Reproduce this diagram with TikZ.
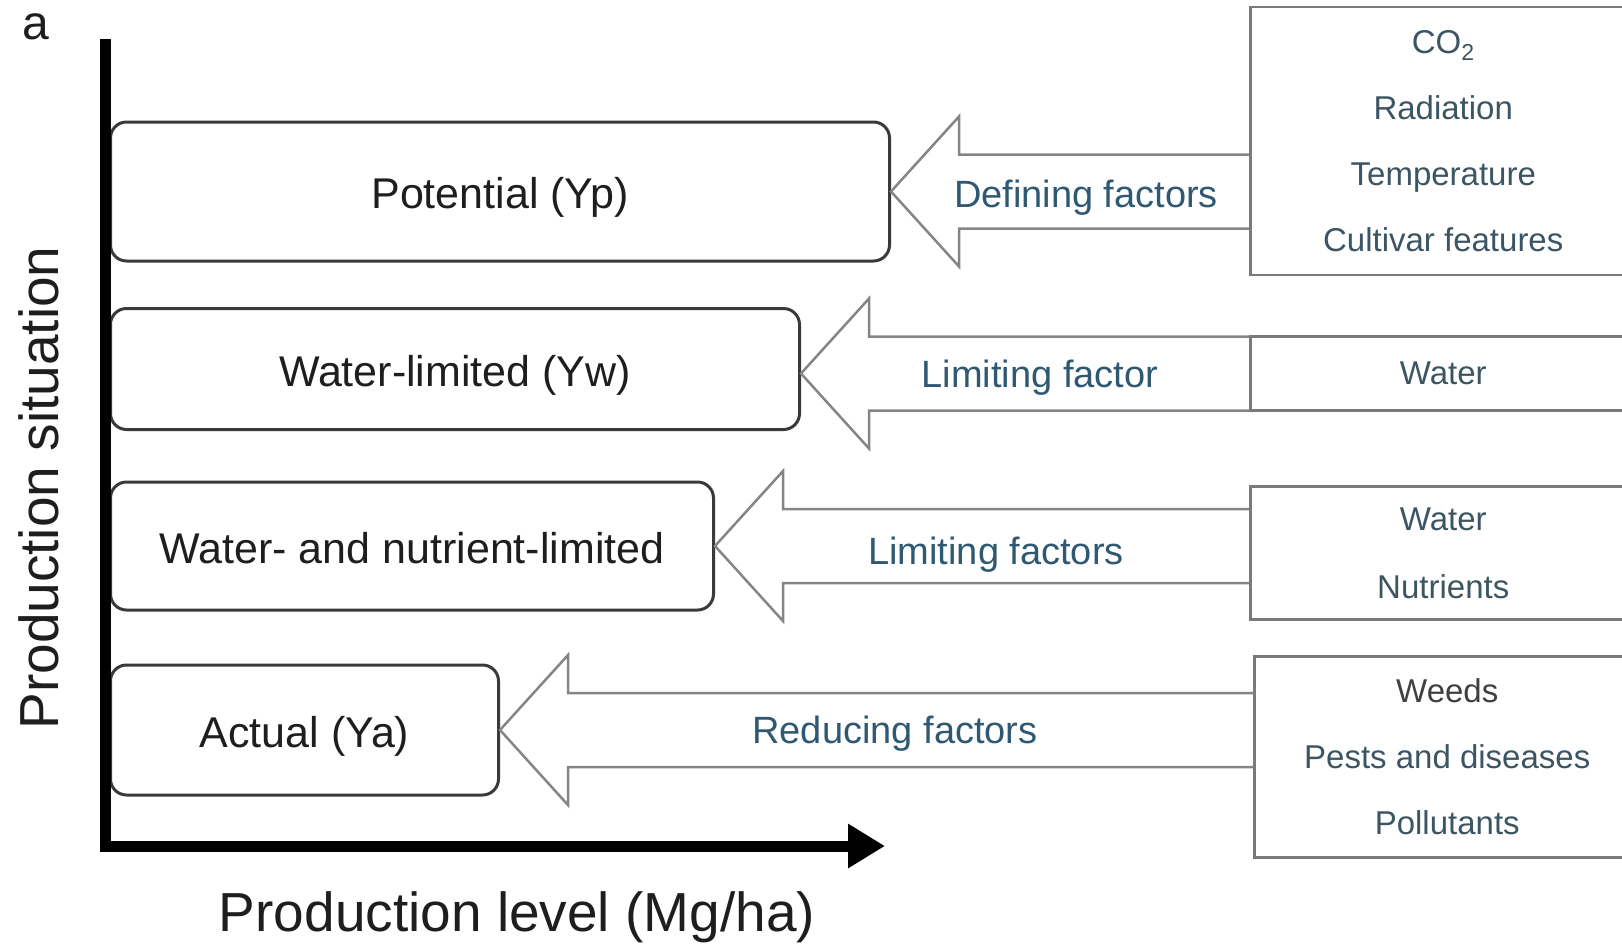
\documentclass[tikz,border=0pt]{standalone}
\usepackage{fontspec}
\setmainfont{Liberation Sans}
\usepackage{tikz}
\usetikzlibrary{positioning, arrows.meta, calc}
\usepackage{xcolor}

\definecolor{boxgray}{HTML}{3A3A3A}
\definecolor{framegray}{HTML}{7A7A7A}
\definecolor{arrowgray}{HTML}{858585}
\definecolor{labelblack}{HTML}{1E1E1E}
\definecolor{labelblue}{HTML}{2F5872}
\definecolor{factortext}{HTML}{3C5563}

\newcommand{\sitfont}{\fontsize{43}{52}\selectfont}
\newcommand{\arrfont}{\fontsize{38}{46}\selectfont}
\newcommand{\facfont}{\fontsize{33}{66}\selectfont}
\newcommand{\axfont}{\fontsize{55}{66}\selectfont}

\begin{document}
\begin{tikzpicture}[
        x=1pt, y=-1pt,
        situation/.style={draw=boxgray, line width=3pt, rounded corners=16pt,
          anchor=west, font=\sitfont, text=labelblack,
          text height=34pt, text depth=0pt},
        factorbox/.style={draw=framegray, line width=2.5pt, anchor=west,
          minimum width=386pt, align=center, font=\facfont, text=factortext},
        factorarrow/.style={draw=arrowgray, line width=2.5pt, line join=miter},
        arrowlabel/.style={font=\arrfont, text=labelblue},
        axisline/.style={line width=11pt, line join=miter,
          -{Triangle[length=37pt, width=42pt]}},
        axislabel/.style={font=\axfont, text=labelblack}
      ]
      \useasboundingbox (0,0) rectangle (1622,946);
      \clip (0,0) rectangle (1622,946);

      % production situations
      \node[situation, minimum width=779pt, minimum height=139pt] (yp)  at (109,191.5) {Potential (Yp)};
      \node[situation, minimum width=689pt, minimum height=121pt] (yw)  at (109,369)   {Water-limited (Yw)};
      \node[situation, minimum width=603pt, minimum height=128pt] (ywn) at (109,546)   {Water- and nutrient-limited};
      \node[situation, minimum width=388pt, minimum height=130pt] (ya)  at (109,730)   {Actual (Ya)};

      % factors
      \node[factorbox, minimum height=268pt] (f1) at (1249,141)
        {CO\textsubscript{2}\\Radiation\\Temperature\\Cultivar features};
      \node[factorbox, minimum height=74pt]  (f2) at (1249,373.5) {Water};
      \node[factorbox, minimum height=133pt, font=\fontsize{33}{68}\selectfont] (f3) at (1249,553)
        {Water\\Nutrients};
      \node[factorbox, minimum height=201pt] (f4) at (1253,757)
        {\textcolor{labelblack!85}{Weeds}\\Pests and diseases\\Pollutants};

      % hollow arrows
      \foreach \s/\f/\d in {yp/f1/0, yw/f2/4.5, ywn/f3/0, ya/f4/0}
        \draw[factorarrow] let \p1=($(\s.east)+(0,\d)$), \p2=(\f.west) in
          (\x2,\y1+37pt) -- (\x1+68pt,\y1+37pt) -- (\x1+68pt,\y1+75pt) -- (\x1,\y1)
          -- (\x1+68pt,\y1-75pt) -- (\x1+68pt,\y1-37pt) -- (\x2,\y1-37pt);

      \node[arrowlabel] (def)  at (1086,198) {Defining factors};
      \node[arrowlabel] (lim)  at (1040,378) {Limiting factor};
      \node[arrowlabel] (lims) at (996,555)  {Limiting factors};
      \node[arrowlabel] (red)  at (895,734)  {Reducing factors};

      % axes
      \coordinate (top)    at (105,39);
      \coordinate (origin) at (105,846);
      \coordinate (xend)   at (885,846);
      \draw[axisline] (top) -- (origin) -- (xend);

      \node[axislabel] (xlabel) at (517,917) {Production level (Mg/ha)};
      \node[axislabel, rotate=90] (ylabel) at (39,488) {Production situation};
      \node[font=\fontsize{48}{56}\selectfont, text=labelblack] (panel) at (36,27) {a};
    \end{tikzpicture}
\end{document}
